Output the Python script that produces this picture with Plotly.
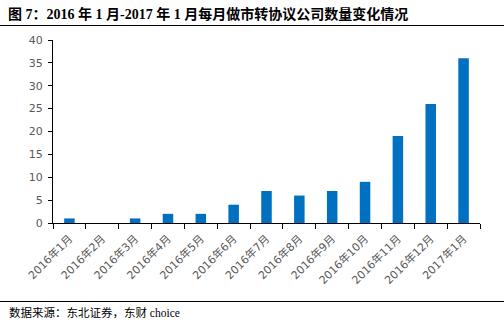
import plotly.graph_objects as go

categories = ["2016年1月", "2016年2月", "2016年3月", "2016年4月", "2016年5月", "2016年6月",
              "2016年7月", "2016年8月", "2016年9月", "2016年10月", "2016年11月", "2016年12月", "2017年1月"]
values = [1, 0, 1, 2, 2, 4, 7, 6, 7, 9, 19, 26, 36]
y_ticks = [0, 5, 10, 15, 20, 25, 30, 35, 40]

title_text = "<b>图 7：2016 年 1 月-2017 年 1 月每月做市转协议公司数量变化情况</b>"
source_text = "数据来源：东北证券，东财 choice"

W, H = 504, 334
L, R, T, B = 53, 24, 40, 111
pw = W - L - R
ph = H - T - B

def px_x(x):
    return (x - L) / pw

def px_y(y):
    return (H - B - y) / ph

fig = go.Figure()
fig.add_trace(go.Bar(x=categories, y=values, marker_color="#0070C0", marker_line_width=0))

tick_font = dict(family="DejaVu Sans, Noto Sans CJK SC", size=11, color="#595959")

fig.update_layout(
    width=W, height=H,
    margin=dict(l=L, r=R, t=T, b=B, pad=0),
    paper_bgcolor="white", plot_bgcolor="white",
    bargap=0.68,
    showlegend=False,
    title=dict(text=title_text, x=8 / W, y=1 - 14 / H, xref="container", yref="container",
               xanchor="left", yanchor="middle",
               font=dict(family="Liberation Serif, Noto Sans CJK SC", size=14, color="black")),
    xaxis=dict(
        showline=True, linecolor="black", linewidth=1,
        ticks="outside", ticklen=5, tickcolor="black", tickson="boundaries",
        tickangle=-45, tickfont=tick_font, showgrid=False,
        ticklabelstandoff=4,
    ),
    yaxis=dict(
        range=[0, 40], tickvals=y_ticks,
        showline=True, linecolor="black", linewidth=1,
        ticks="outside", ticklen=4, tickcolor="black",
        ticklabelstandoff=3,
        tickfont=dict(family="DejaVu Sans, Noto Sans CJK SC", size=11, color="#595959"),
        showgrid=False, zeroline=False,
    ),
    shapes=[
        dict(type="line", xref="paper", yref="paper", x0=px_x(0), x1=px_x(W),
             y0=px_y(25.5), y1=px_y(25.5), line=dict(color="black", width=1.2)),
        dict(type="line", xref="paper", yref="paper", x0=px_x(0), x1=px_x(W),
             y0=px_y(301.5), y1=px_y(301.5), line=dict(color="black", width=1.2)),
    ],
    annotations=[
        dict(text=source_text, xref="paper", yref="paper", x=px_x(7), y=px_y(312.5),
             xanchor="left", yanchor="middle", showarrow=False,
             font=dict(family="Liberation Serif, Noto Sans CJK SC", size=11.5, color="black")),
    ],
)

fig.write_html("out.html")
